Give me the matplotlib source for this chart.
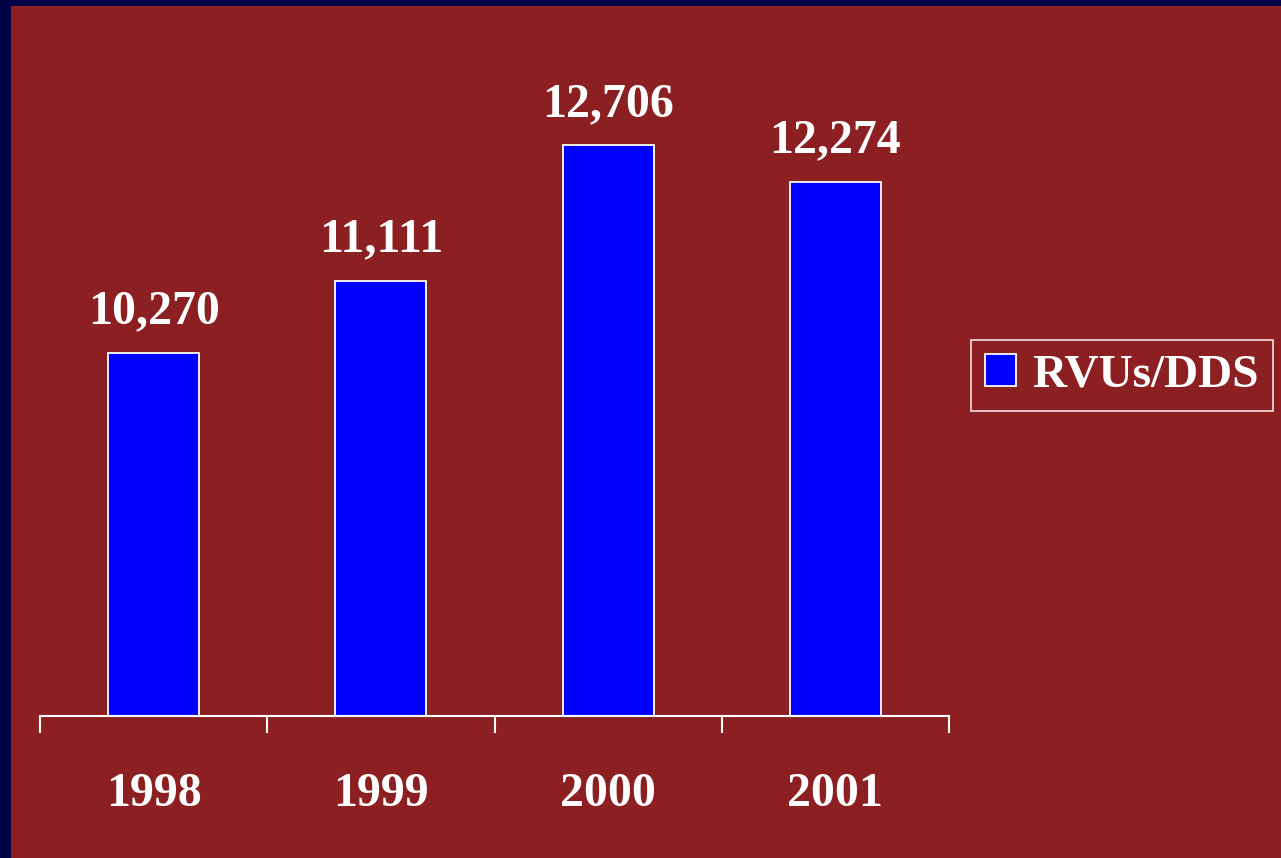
import matplotlib.pyplot as plt
from matplotlib.patches import Rectangle

years = ["1998", "1999", "2000", "2001"]
rvus_per_dds = [10270, 11111, 12706, 12274]
value_labels = ["10,270", "11,111", "12,706", "12,274"]

navy = "#000044"
slide_red = "#8C1F22"
bar_blue = "#0000FF"

plt.rcParams["font.family"] = ["Liberation Serif", "DejaVu Serif"]
plt.rcParams["font.weight"] = "bold"

W, H = 1281, 858
fig = plt.figure(figsize=(W / 100, H / 100), dpi=100, facecolor=navy)

# red slide area, leaving the navy strip on the left and top
fig.patches.append(Rectangle((11 / W, 0), 1 - 11 / W, 1 - 6 / H,
                             transform=fig.transFigure, facecolor=slide_red,
                             edgecolor="none", zorder=-10))

ax = fig.add_axes([40 / W, (H - 716) / H, (949 - 40) / W, (716 - 35) / H])
ax.set_facecolor("none")

x = range(len(years))
bars = ax.bar(x, rvus_per_dds, width=0.4, color=bar_blue, edgecolor="white",
              linewidth=1.3, label="RVUs/DDS", zorder=2)

for xi, v, lab in zip(x, rvus_per_dds, value_labels):
    ax.annotate(lab, (xi, v), xytext=(0, 21), textcoords="offset points",
                ha="center", va="baseline", color="white", fontsize=34.5,
                fontweight="bold")

ax.set_xlim(-0.5, 3.5)
ax.set_ylim(6000, 14000)

for side in ["left", "right", "top"]:
    ax.spines[side].set_visible(False)
ax.spines["bottom"].set_color("white")
ax.spines["bottom"].set_linewidth(1.5)

ax.set_yticks([])
ax.set_xticks(list(x))
ax.set_xticklabels(years, fontsize=34.5, fontweight="bold", color="white")
ax.set_xticks([i - 0.5 for i in range(len(years) + 1)], minor=True)
ax.tick_params(axis="x", which="major", length=0, pad=40)
ax.tick_params(axis="x", which="minor", length=12, width=1.5, color="white",
               direction="out")

leg = ax.legend(loc="center left", bbox_to_anchor=(971 / W, 1 - 375.5 / H),
                bbox_transform=fig.transFigure, borderaxespad=0, fancybox=False,
                frameon=True, handlelength=0.65, handleheight=0.65,
                handletextpad=0.35, borderpad=0.3,
                prop={"family": "Liberation Serif", "weight": "bold", "size": 34})
leg.get_frame().set_facecolor("none")
leg.get_frame().set_edgecolor("white")
leg.get_frame().set_linewidth(1.3)
for t in leg.get_texts():
    t.set_color("white")

fig.savefig("out.png", dpi=100, facecolor=navy)
